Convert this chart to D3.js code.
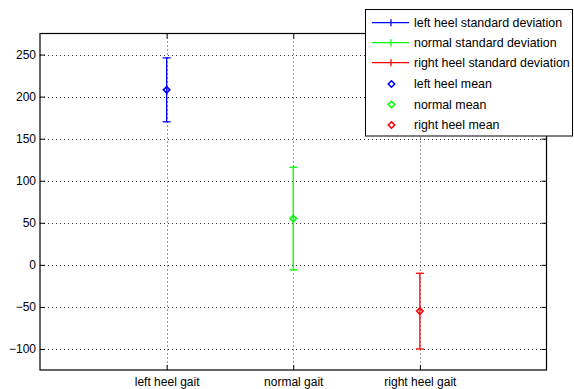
<!DOCTYPE html>
<html><head><meta charset="utf-8">
<script src="https://cdn.jsdelivr.net/npm/d3@7"></script>
<style>body{margin:0;background:#fff}svg{display:block}text{font-family:"Liberation Sans",Arial,sans-serif;font-size:12px;fill:#000}</style>
</head><body>
<script>
const categories = ["left heel gait", "normal gait", "right heel gait"];
const means = [208, 55, -55];
const stds = [38, 61, 45];
const colors = ["#0000ff", "#00ff00", "#ff0000"];
const yTicks = [-100, -50, 0, 50, 100, 150, 200, 250];
const legendLabels = ["left heel standard deviation", "normal standard deviation", "right heel standard deviation",
  "left heel mean", "normal mean", "right heel mean"];

const W = 574, H = 389;
const m = {left: 40, top: 33.5, right: 27.5, bottom: 19};
const svg = d3.select("body").append("svg").attr("width", W).attr("height", H);
const x = d3.scaleLinear().domain([0, 4]).range([m.left, W - m.right]);
const y = d3.scaleLinear().domain([-125, 275]).range([H - m.bottom, m.top]);
const xPos = i => x(i + 1);

const g = svg.append("g");
// grid
g.selectAll(".gy").data(yTicks).join("line")
  .attr("x1", m.left).attr("x2", W - m.right)
  .attr("y1", d => Math.round(y(d)) + 0.5).attr("y2", d => Math.round(y(d)) + 0.5)
  .attr("stroke", "#333").attr("stroke-width", 1).attr("stroke-dasharray", "1,3");
g.selectAll(".gx").data(categories).join("line")
  .attr("x1", (d, i) => Math.round(xPos(i)) + 0.5).attr("x2", (d, i) => Math.round(xPos(i)) + 0.5)
  .attr("y1", m.top).attr("y2", H - m.bottom)
  .attr("stroke", "#333").attr("stroke-width", 1).attr("stroke-dasharray", "1,3");

// axes
const yAxisL = d3.axisLeft(y).tickValues(yTicks).tickSize(-5).tickPadding(4).tickFormat(d => d < 0 ? "\u2212" + Math.abs(d) : d);
const yAxisR = d3.axisRight(y).tickValues(yTicks).tickSize(-5).tickFormat("");
const xAxisB = d3.axisBottom(x).tickValues([1, 2, 3]).tickSize(-5).tickPadding(7).tickFormat(d => categories[d - 1]);
const xAxisT = d3.axisTop(x).tickValues([1, 2, 3]).tickSize(-5).tickFormat("");
function style(sel) {
  sel.select(".domain").remove();
  sel.selectAll("line").attr("stroke", "#000");
  sel.selectAll("text").attr("font-family", null).attr("font-size", null).attr("fill", "#000");
}
svg.append("g").attr("transform", `translate(${m.left},0)`).call(yAxisL).call(style);
svg.append("g").attr("transform", `translate(${W - m.right},0)`).call(yAxisR).call(style);
svg.append("g").attr("transform", `translate(0,${H - m.bottom})`).call(xAxisB).call(style);
svg.append("g").attr("transform", `translate(0,${m.top})`).call(xAxisT).call(style);
svg.append("rect").attr("x", m.left).attr("y", m.top).attr("width", W - m.right - m.left).attr("height", H - m.bottom - m.top)
  .attr("fill", "none").attr("stroke", "#000").attr("stroke-width", 1.2);

// error bars
const eb = svg.append("g");
categories.forEach((c, i) => {
  const cx = xPos(i), lo = y(means[i] - stds[i]), hi = y(means[i] + stds[i]), col = colors[i];
  eb.append("line").attr("x1", cx).attr("x2", cx).attr("y1", lo).attr("y2", hi).attr("stroke", col).attr("stroke-width", 1.3);
  [lo, hi].forEach(yy => {
    eb.append("line").attr("x1", cx - 4).attr("x2", cx + 4).attr("y1", yy).attr("y2", yy).attr("stroke", col).attr("stroke-width", 1.3);
  });
  const my = y(means[i]), r = 3.2;
  eb.append("path").attr("d", `M${cx},${my - r}L${cx + r},${my}L${cx},${my + r}L${cx - r},${my}Z`)
    .attr("fill", "none").attr("stroke", col).attr("stroke-width", 1.6);
});

// legend
const lg = svg.append("g");
lg.append("rect").attr("x", 365.5).attr("y", 9.5).attr("width", 207).attr("height", 126.5)
  .attr("fill", "#fff").attr("stroke", "#000").attr("stroke-width", 1);
const rowY = [22.7, 42.7, 62.7, 84, 104.5, 125];
legendLabels.forEach((lab, k) => {
  const yy = rowY[k], col = colors[k % 3];
  if (k < 3) {
    lg.append("line").attr("x1", 372).attr("x2", 409).attr("y1", yy).attr("y2", yy).attr("stroke", col).attr("stroke-width", 1.3);
    lg.append("line").attr("x1", 391).attr("x2", 391).attr("y1", yy - 3.5).attr("y2", yy + 3.5).attr("stroke", col).attr("stroke-width", 1.3);
  } else {
    const r = 3.2, cx = 391.5;
    lg.append("path").attr("d", `M${cx},${yy - r}L${cx + r},${yy}L${cx},${yy + r}L${cx - r},${yy}Z`)
      .attr("fill", "none").attr("stroke", col).attr("stroke-width", 1.6);
  }
  lg.append("text").attr("x", 414).attr("y", yy).attr("dy", "0.35em").style("font-size", "12.4px").text(lab);
});
</script>
</body></html>
